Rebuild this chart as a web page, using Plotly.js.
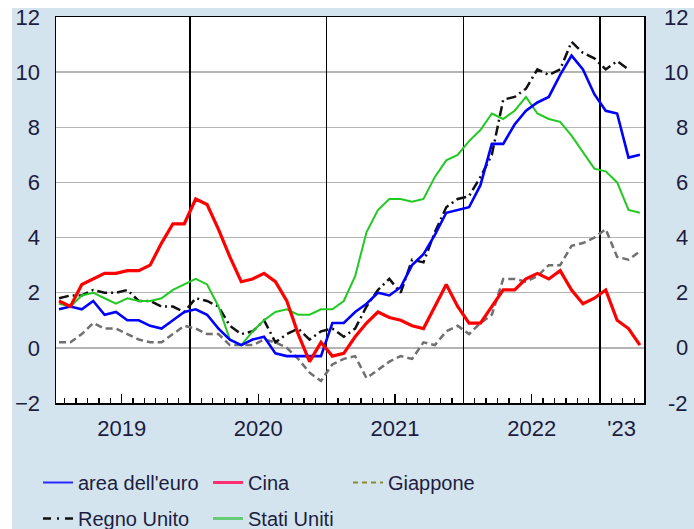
<!DOCTYPE html>
<html>
<head>
<meta charset="utf-8">
<script src="https://cdn.plot.ly/plotly-3.0.1.min.js"></script>
<style>
html,body{margin:0;padding:0;background:#fff;width:694px;height:529px;overflow:hidden}
#chart{width:694px;height:545px}
</style>
</head>
<body>
<div id="chart"></div>
<script>
// Monthly data, January 2019 - April 2023 (year-on-year % changes)
const months = [];
for (let y = 2019; y <= 2023; y++) {
  for (let m = 1; m <= 12; m++) {
    if (y === 2023 && m > 4) break;
    months.push(y + '-' + String(m).padStart(2, '0'));
  }
}

const euroArea = [
  1.4, 1.5, 1.4, 1.7, 1.2, 1.3, 1.0, 1.0, 0.8, 0.7, 1.0, 1.3,
  1.4, 1.2, 0.7, 0.3, 0.1, 0.3, 0.4, -0.2, -0.3, -0.3, -0.3, -0.3,
  0.9, 0.9, 1.3, 1.6, 2.0, 1.9, 2.2, 3.0, 3.4, 4.1, 4.9, 5.0,
  5.1, 5.9, 7.4, 7.4, 8.1, 8.6, 8.9, 9.1, 9.9, 10.6, 10.1, 9.2,
  8.6, 8.5, 6.9, 7.0
];
const china = [
  1.7, 1.5, 2.3, 2.5, 2.7, 2.7, 2.8, 2.8, 3.0, 3.8, 4.5, 4.5,
  5.4, 5.2, 4.3, 3.3, 2.4, 2.5, 2.7, 2.4, 1.7, 0.5, -0.5, 0.2,
  -0.3, -0.2, 0.4, 0.9, 1.3, 1.1, 1.0, 0.8, 0.7, 1.5, 2.3, 1.5,
  0.9, 0.9, 1.5, 2.1, 2.1, 2.5, 2.7, 2.5, 2.8, 2.1, 1.6, 1.8,
  2.1, 1.0, 0.7, 0.1
];
const japan = [
  0.2, 0.2, 0.5, 0.9, 0.7, 0.7, 0.5, 0.3, 0.2, 0.2, 0.5, 0.8,
  0.7, 0.5, 0.5, 0.1, 0.1, 0.1, 0.3, 0.2, 0.0, -0.4, -0.9, -1.2,
  -0.6, -0.4, -0.3, -1.1, -0.8, -0.5, -0.3, -0.4, 0.2, 0.1, 0.6, 0.8,
  0.5, 0.9, 1.2, 2.5, 2.5, 2.4, 2.6, 3.0, 3.0, 3.7, 3.8, 4.0,
  4.3, 3.3, 3.2, 3.5
];
const unitedKingdom = [
  1.8, 1.9, 1.9, 2.1, 2.0, 2.0, 2.1, 1.7, 1.7, 1.5, 1.5, 1.3,
  1.8, 1.7, 1.5, 0.8, 0.5, 0.6, 1.0, 0.2, 0.5, 0.7, 0.3, 0.6,
  0.7, 0.4, 0.7, 1.5, 2.1, 2.5, 2.0, 3.2, 3.1, 4.2, 5.1, 5.4,
  5.5, 6.2, 7.0, 9.0, 9.1, 9.4, 10.1, 9.9, 10.1, 11.1, 10.7, 10.5,
  10.1, 10.4, 10.1, null
];
const unitedStates = [
  1.6, 1.5, 1.9, 2.0, 1.8, 1.6, 1.8, 1.7, 1.7, 1.8, 2.1, 2.3,
  2.5, 2.3, 1.5, 0.3, 0.1, 0.6, 1.0, 1.3, 1.4, 1.2, 1.2, 1.4,
  1.4, 1.7, 2.6, 4.2, 5.0, 5.4, 5.4, 5.3, 5.4, 6.2, 6.8, 7.0,
  7.5, 7.9, 8.5, 8.3, 8.6, 9.1, 8.5, 8.3, 8.2, 7.7, 7.1, 6.5,
  6.4, 6.0, 5.0, 4.9
];

const seriesNames = ["area dell'euro", "Cina", "Giappone", "Regno Unito", "Stati Uniti"];
const yearLabels = ['2019', '2020', '2021', '2022', "'23"];
const yearLabelPos = [6, 18, 30, 42, 49.9];      // month units from Jan 2019
const midYearTicks = [6, 18, 30, 42];
const yearBoundaries = [12, 24, 36, 48];
const yTickVals = [-2, 0, 2, 4, 6, 8, 10, 12];
const titleText = 'Andamento dei prezzi al consumo (1)';

// x position of each monthly observation (centre of the month)
const xPos = months.map((m, i) => i + 0.5);
const xRange = [0.235, 51.86];

const FONT = 'Liberation Sans, Arial, Helvetica, sans-serif';
const TXT = '#1d1d3f';

// page geometry (pixels); the figure is a little taller than the 529px window
// so that the bottom legend row fits inside the paper without pushing margins
const W = 694, H = 545, VIEW_H = 529;
const ML = 10, MR = 4, MT = 17, MB = 0;            // paper area = figure minus margins
const PL = 56, PR = 644, PT = 17, PB = 403;        // plot area
const paperW = W - ML - MR, paperH = H - MT - MB;
const px2x = p => (p - ML) / paperW;
const px2y = p => (H - MB - p) / paperH;

const dataTraces = [
  {y: japan, line: {color: '#707070', width: 2.5, dash: '7px,4px'}},
  {y: unitedKingdom, line: {color: '#111111', width: 2.5, dash: '10px,4px,2px,4px'}},
  {y: unitedStates, line: {color: '#22c922', width: 2}},
  {y: euroArea, line: {color: '#0000ff', width: 2.6}},
  {y: china, line: {color: '#ff0000', width: 3.2}}
].map(t => Object.assign({
  type: 'scatter', mode: 'lines', x: xPos, showlegend: false,
  hoverinfo: 'skip', connectgaps: false
}, t));

// legend-only entries (the legend symbols use their own colours in the original)
const legendTraces = [
  {name: seriesNames[0], legend: 'legend', legendgroup: 'a', line: {color: '#2a2aff', width: 2}},
  {name: seriesNames[3], legend: 'legend', legendgroup: 'b', line: {color: '#111111', width: 2.5, dash: '8px,6px,2px,6px'}},
  {name: seriesNames[1], legend: 'legend2', legendgroup: 'c', line: {color: '#ff2f72', width: 3}},
  {name: seriesNames[4], legend: 'legend2', legendgroup: 'd', line: {color: '#66cc77', width: 3}},
  {name: seriesNames[2], legend: 'legend3', legendgroup: 'e', line: {color: '#8a8a2e', width: 2, dash: '5px,4px'}}
].map(t => Object.assign({type: 'scatter', mode: 'lines', x: [null], y: [null], showlegend: true, hoverinfo: 'skip'}, t));

const legendBase = {
  orientation: 'v', xanchor: 'left', yanchor: 'top',
  bgcolor: 'rgba(0,0,0,0)', borderwidth: 0,
  font: {family: FONT, size: 20, color: TXT}, tracegroupgap: 7, itemclick: false
};
const legendTop = px2y(463);

const rightLabels = yTickVals.map(v => ({
  xref: 'paper', yref: 'y', x: px2x(690), y: v, xanchor: 'right', yanchor: 'middle',
  text: String(v), showarrow: false, font: {family: FONT, size: 22, color: TXT}
}));

const layout = {
  width: W, height: H,
  margin: {l: ML, r: MR, t: MT, b: MB, pad: 0},
  paper_bgcolor: '#ffffff',
  plot_bgcolor: 'rgba(0,0,0,0)',
  showlegend: true,
  title: {
    text: titleText, font: {family: FONT, size: 20, color: '#000', weight: 'bold'},
    xref: 'container', yref: 'container', x: 352 / W, xanchor: 'center',
    y: 1 - 1 / H, yanchor: 'bottom', pad: {b: 6}
  },
  shapes: [
    {type: 'rect', xref: 'paper', yref: 'paper', layer: 'below',
     x0: px2x(12), x1: px2x(W + 2), y0: px2y(H + 2), y1: px2y(8),
     fillcolor: '#d3e4ef', line: {width: 0}},
    {type: 'rect', xref: 'paper', yref: 'paper', layer: 'below',
     x0: px2x(PL), x1: px2x(PR), y0: px2y(PB), y1: px2y(PT), fillcolor: '#ffffff', line: {width: 0}}
  ],
  xaxis: {
    domain: [px2x(PL), px2x(PR)],
    range: xRange, fixedrange: true,
    tickmode: 'array', tickvals: yearLabelPos, ticktext: yearLabels,
    ticks: '', showgrid: false, zeroline: false,
    showline: true, mirror: true, linecolor: '#000', linewidth: 1.5,
    tickfont: {family: FONT, size: 22, color: TXT}, ticklabelstandoff: 5
  },
  xaxis2: {
    domain: [px2x(PL), px2x(PR)],
    overlaying: 'x', matches: 'x', anchor: 'y', range: xRange,
    tickmode: 'array', tickvals: yearBoundaries, showticklabels: false,
    ticks: '', showgrid: true, gridcolor: '#000', gridwidth: 1.5, zeroline: false, showline: false,
    minor: {tick0: 0, dtick: 1, ticks: 'inside', ticklen: 5, tickcolor: '#000', tickwidth: 1.3, showgrid: false}
  },
  xaxis3: {
    domain: [px2x(PL), px2x(PR)],
    overlaying: 'x', matches: 'x', anchor: 'y', range: xRange,
    tickmode: 'array', tickvals: midYearTicks, showticklabels: false,
    ticks: 'inside', ticklen: 9, tickcolor: '#000', tickwidth: 1.3, showgrid: false, zeroline: false, showline: false
  },
  yaxis: {
    domain: [px2y(PB), px2y(PT)],
    range: [-2, 12], fixedrange: true,
    tickmode: 'array', tickvals: yTickVals,
    ticks: '', showgrid: true, gridcolor: '#b4b4b4', gridwidth: 1.3, zeroline: false,
    showline: true, mirror: true, linecolor: '#000', linewidth: 1.5,
    tickfont: {family: FONT, size: 22, color: TXT}, ticklabelstandoff: 10
  },
  legend: Object.assign({}, legendBase, {x: px2x(38), y: legendTop}),
  legend2: Object.assign({}, legendBase, {x: px2x(208), y: legendTop}),
  legend3: Object.assign({}, legendBase, {x: px2x(348), y: legendTop}),
  annotations: rightLabels
};

// traces on the overlay axes are needed for them to be drawn
const axisHolders = [
  {type: 'scatter', mode: 'lines', x: [null], y: [null], xaxis: 'x2', showlegend: false, hoverinfo: 'skip'},
  {type: 'scatter', mode: 'lines', x: [null], y: [null], xaxis: 'x3', showlegend: false, hoverinfo: 'skip'}
];

Plotly.newPlot('chart', axisHolders.concat(dataTraces, legendTraces), layout, {displayModeBar: false, staticPlot: true});
</script>
</body>
</html>
